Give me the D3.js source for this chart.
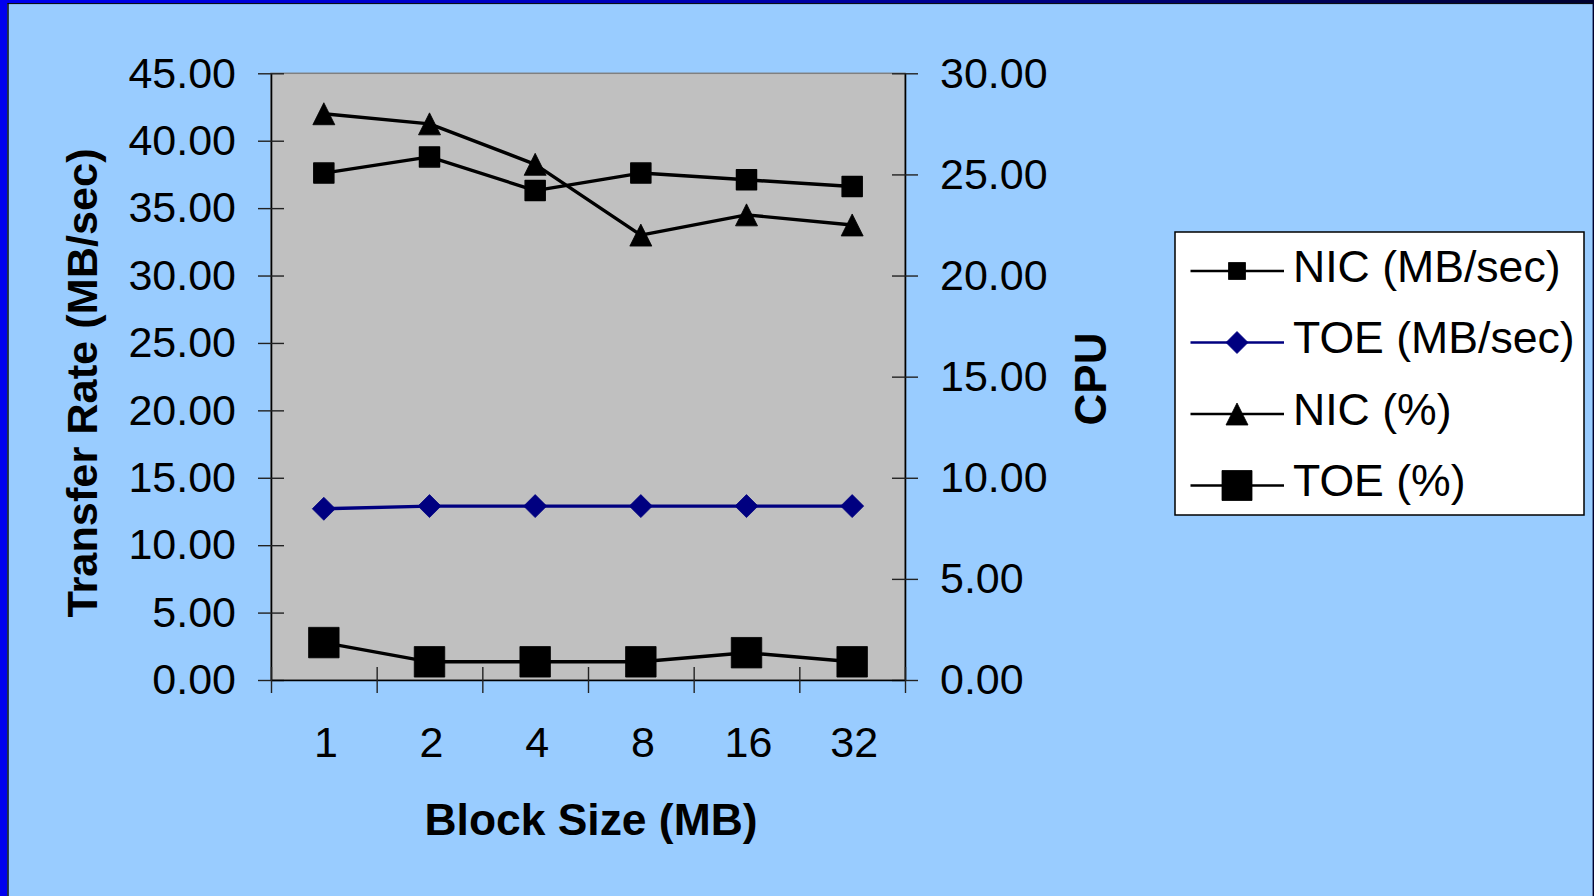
<!DOCTYPE html>
<html>
<head>
<meta charset="utf-8">
<script src="https://cdn.jsdelivr.net/npm/d3@7"></script>
<style>
  html, body { margin: 0; padding: 0; background: #99CCFF; overflow: hidden; }
  svg { display: block; }
  text { font-family: "Liberation Sans", Arial, sans-serif; fill: #000; }
</style>
</head>
<body>
<svg id="chart" width="1594" height="896"></svg>
<script>
// Block sizes (MB) on the category axis
const blockSizes = ["1", "2", "4", "8", "16", "32"];

// Transfer rates, MB/sec (left axis)
const nicRate = [37.6, 38.8, 36.3, 37.6, 37.1, 36.6];
const toeRate = [12.7, 12.9, 12.9, 12.9, 12.9, 12.9];

// CPU utilisation, % (right axis)
const nicCpu = [28.0, 27.5, 25.5, 22.0, 23.0, 22.5];
const toeCpu = [1.85, 0.9, 0.9, 0.9, 1.35, 0.9];

// Axis tick values
const rateTicks = [0, 5, 10, 15, 20, 25, 30, 35, 40, 45];
const cpuTicks = [0, 5, 10, 15, 20, 25, 30];

const legendLabels = ["NIC (MB/sec)", "TOE (MB/sec)", "NIC (%)", "TOE (%)"];

const svg = d3.select("#chart");
const W = 1594, H = 896;
const plot = { left: 271, right: 905, top: 73.3, bottom: 680 };
const fontNum = 43, fontTitle = 44, fontLegend = 44.6, tick = 13;

// page background and frame
svg.append("rect").attr("width", W).attr("height", H).attr("fill", "#99CCFF");
const grad = svg.append("defs").append("linearGradient").attr("id", "topband")
  .attr("x1", "0%").attr("x2", "100%");
grad.append("stop").attr("offset", "0%").attr("stop-color", "#0000EE");
grad.append("stop").attr("offset", "45%").attr("stop-color", "#0000B0");
grad.append("stop").attr("offset", "100%").attr("stop-color", "#00002E");
svg.append("rect").attr("x", 0).attr("y", 0).attr("width", W).attr("height", 3.3).attr("fill", "url(#topband)");
svg.append("line").attr("x1", 7.5).attr("x2", W).attr("y1", 3.6).attr("y2", 3.6).attr("stroke", "#000").attr("stroke-width", 1);
svg.append("rect").attr("x", 0).attr("y", 0).attr("width", 7.3).attr("height", H).attr("fill", "#0000EE");
svg.append("line").attr("x1", 8).attr("x2", 8).attr("y1", 3).attr("y2", H).attr("stroke", "#000").attr("stroke-width", 1.4);
svg.append("line").attr("x1", W - 0.7).attr("x2", W - 0.7).attr("y1", 0).attr("y2", H).attr("stroke", "#00002E").attr("stroke-width", 1.4);

// scales
const x = d3.scaleBand().domain(blockSizes).range([plot.left, plot.right]).paddingInner(0).paddingOuter(0);
const xEdge = d3.scaleLinear().domain([0, blockSizes.length]).range([plot.left, plot.right]);
const yRate = d3.scaleLinear().domain([0, 45]).range([plot.bottom, plot.top]);
const yCpu = d3.scaleLinear().domain([0, 30]).range([plot.bottom, plot.top]);

// plot area
svg.append("rect")
  .attr("x", plot.left).attr("y", plot.top)
  .attr("width", plot.right - plot.left).attr("height", plot.bottom - plot.top)
  .attr("fill", "#C0C0C0").attr("stroke", "#808080").attr("stroke-width", 1.5);

function styleAxis(g) {
  g.select(".domain").attr("stroke", "#000").attr("stroke-width", 1.6);
  g.selectAll(".tick line").attr("stroke", "#222").attr("stroke-width", 1.4);
  g.selectAll(".tick text").attr("font-size", fontNum).attr("font-family", "Liberation Sans, Arial, sans-serif");
}

// left axis (transfer rate) with ticks crossing the axis line
const gL = svg.append("g").attr("transform", `translate(${plot.left},0)`)
  .call(d3.axisLeft(yRate).tickValues(rateTicks).tickFormat(d3.format(".2f"))
    .tickSizeInner(tick).tickSizeOuter(0).tickPadding(22));
gL.selectAll(".tick line").attr("x2", -tick).attr("x1", tick);
styleAxis(gL);

// right axis (CPU)
const gR = svg.append("g").attr("transform", `translate(${plot.right},0)`)
  .call(d3.axisRight(yCpu).tickValues(cpuTicks).tickFormat(d3.format(".2f"))
    .tickSizeInner(tick).tickSizeOuter(0).tickPadding(22));
gR.selectAll(".tick line").attr("x2", tick).attr("x1", -tick);
styleAxis(gR);

// bottom axis: tick marks on category boundaries
const gB = svg.append("g").attr("transform", `translate(0,${plot.bottom})`)
  .call(d3.axisBottom(xEdge).tickValues(d3.range(blockSizes.length + 1)).tickFormat("")
    .tickSizeInner(tick).tickSizeOuter(0));
gB.selectAll(".tick line").attr("y1", -tick).attr("y2", tick);
styleAxis(gB);

// bottom axis: category labels centred in each band
const gBL = svg.append("g").attr("transform", `translate(2,${plot.bottom})`)
  .call(d3.axisBottom(x).tickSize(0).tickPadding(46.5));
gBL.select(".domain").remove();
styleAxis(gBL);

// axis titles
svg.append("text")
  .attr("transform", "translate(97,383) rotate(-90)")
  .attr("text-anchor", "middle").attr("font-weight", "bold").attr("font-size", 43.3)
  .text("Transfer Rate (MB/sec)");
svg.append("text")
  .attr("transform", "translate(1106,379) rotate(-90)")
  .attr("text-anchor", "middle").attr("font-weight", "bold").attr("font-size", fontTitle)
  .text("CPU");
svg.append("text")
  .attr("x", 591).attr("y", 835)
  .attr("text-anchor", "middle").attr("font-weight", "bold").attr("font-size", 44.4)
  .text("Block Size (MB)");

// marker shapes
function markerPath(kind, s) {
  const h = s / 2;
  if (kind === "square") return `M${-h},${-h}H${h}V${h}H${-h}Z`;
  if (kind === "diamond") return `M0,${-h}L${h},0L0,${h}L${-h},0Z`;
  if (kind === "triangle") return `M0,${-h}L${h},${h}L${-h},${h}Z`;
  return "";
}

const series = [
  { name: legendLabels[0], values: nicRate, y: yRate, color: "#000", marker: "square", size: 20, lsize: 17 },
  { name: legendLabels[1], values: toeRate, y: yRate, color: "#000080", marker: "diamond", size: 23, lsize: 22 },
  { name: legendLabels[2], values: nicCpu, y: yCpu, color: "#000", marker: "triangle", size: 22, lsize: 22 },
  { name: legendLabels[3], values: toeCpu, y: yCpu, color: "#000", marker: "square", size: 30.5, lsize: 30 }
];

const cx = d => x(d) + x.bandwidth() / 2;

series.forEach(s => {
  const pts = blockSizes.map((b, i) => [cx(b), s.y(s.values[i])]);
  svg.append("path")
    .attr("d", d3.line()(pts))
    .attr("fill", "none").attr("stroke", s.color).attr("stroke-width", 3.4)
    .attr("stroke-linejoin", "round");
  svg.append("g").selectAll("path").data(pts).join("path")
    .attr("transform", p => `translate(${p[0]},${p[1]})`)
    .attr("d", markerPath(s.marker, s.size))
    .attr("fill", s.color)
    .attr("stroke", s.color).attr("stroke-width", s.marker === "square" && s.size < 25 ? 1.5 : 0.8)
    .attr("stroke-linejoin", "round");
});

// legend
const leg = { x: 1175, y: 232, w: 409, h: 283 };
svg.append("rect")
  .attr("x", leg.x).attr("y", leg.y).attr("width", leg.w).attr("height", leg.h)
  .attr("fill", "#fff").attr("stroke", "#000").attr("stroke-width", 1.5);
const legRows = [271, 342.5, 414, 485.5];
series.forEach((s, i) => {
  const g = svg.append("g").attr("transform", `translate(0,${legRows[i]})`);
  g.append("line").attr("x1", 1190.5).attr("x2", 1284).attr("y1", 0).attr("y2", 0)
    .attr("stroke", s.color).attr("stroke-width", 2.5);
  g.append("path").attr("transform", "translate(1237,0)")
    .attr("d", markerPath(s.marker, s.lsize)).attr("fill", s.color)
    .attr("stroke", s.color).attr("stroke-width", 0.8);
  g.append("text").attr("x", 1293).attr("y", 10.5)
    .attr("font-size", fontLegend).text(s.name);
});
</script>
</body>
</html>
